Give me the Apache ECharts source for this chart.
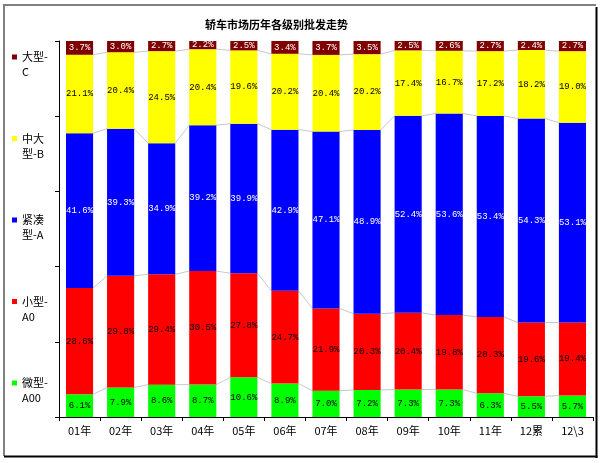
<!DOCTYPE html>
<html><head><meta charset="utf-8">
<script src="https://cdn.jsdelivr.net/npm/echarts@6/dist/echarts.min.js"></script>
<style>html,body{margin:0;padding:0;background:#fff}#c{width:603px;height:463px}</style>
</head><body><div id="c"></div>
<script>
var categories = ['01年','02年','03年','04年','05年','06年','07年','08年','09年','10年','11年','12累','12\\3'];
var seriesNames = ['微型-A00','小型-A0','紧凑型-A','中大型-B','大型-C'];
var legendLabels = {'大型-C':'大型-\nC','中大型-B':'中大\n型-B','紧凑型-A':'紧凑\n型-A','小型-A0':'小型-\nA0','微型-A00':'微型-\nA00'};
var microA00 = [6.1,7.9,8.6,8.7,10.6,8.9,7.0,7.2,7.3,7.3,6.3,5.5,5.7];
var smallA0  = [28.6,29.8,29.4,30.5,27.8,24.7,21.9,20.3,20.4,19.8,20.3,19.6,19.4];
var compactA = [41.6,39.3,34.9,39.2,39.9,42.9,47.1,48.9,52.4,53.6,53.4,54.3,53.1];
var midLargeB= [21.1,20.4,24.5,20.4,19.6,20.2,20.4,20.2,17.4,16.7,17.2,18.2,19.0];
var largeC   = [3.7,3.0,2.7,2.2,2.5,3.4,3.7,3.5,2.5,2.6,2.7,2.4,2.7];
var yTicks = [0,20,40,60,80,100];

var raw = [microA00, smallA0, compactA, midLargeB, largeC];
var colors = ['#00ff00','#ff0000','#0000ff','#ffff00','#800000'];
var labelColors = ['#000','#000','#fff','#000','#fff'];
var n = categories.length;
var totals = categories.map(function(_, i){ var s=0; raw.forEach(function(a){s+=a[i];}); return s; });
var norm = raw.map(function(a){ return a.map(function(v,i){ return v/totals[i]*100; }); });
var cum = categories.map(function(_, i){ var c=0, r=[]; for (var k=0;k<4;k++){ c+=norm[k][i]; r.push(c);} return r; });
var lineData = [];
for (var i=0;i<n-1;i++){ lineData.push([i].concat(cum[i]).concat(cum[i+1])); }

var BW = 0.66;
var series = raw.map(function(arr, k){
  return {
    name: seriesNames[k], type: 'bar', stack: 'total', barWidth: '66%',
    itemStyle: {color: colors[k]},
    data: arr.map(function(v,i){ return {value: norm[k][i], raw: v}; }),
    label: {show: true, position: 'inside', color: labelColors[k],
      fontFamily: 'Liberation Mono', fontSize: 9,
      formatter: function(p){ return p.data.raw.toFixed(1) + '%'; }},
    emphasis: {disabled: true}, animation: false
  };
});
series.push({
  type: 'custom', silent: true, z: 1, animation: false,
  data: lineData,
  encode: {x: 0, y: 1},
  renderItem: function(params, api){
    var i = api.value(0);
    var hw = api.size([1,0])[0] * BW / 2;
    var children = [];
    for (var k=0;k<4;k++){
      var p1 = api.coord([i, api.value(1+k)]);
      var p2 = api.coord([i+1, api.value(5+k)]);
      children.push({type:'line', shape:{x1:p1[0]+hw, y1:p1[1], x2:p2[0]-hw, y2:p2[1]},
        style:{stroke:'#c8c8c8', lineWidth:1}});
    }
    return {type:'group', children: children};
  }
});

var chart = echarts.init(document.getElementById('c'), null, {renderer:'canvas'});
chart.setOption({
  animation: false,
  backgroundColor: '#fff',
  title: {text: '轿车市场历年各级别批发走势', left: 200, top: 14,
    textStyle: {fontFamily: 'Noto Sans CJK SC', fontSize: 11, fontWeight: 'bold', color: '#000'}},
  legend: {orient: 'vertical', left: 12, top: 34.5, itemGap: 36.5, itemWidth: 5, itemHeight: 5,
    icon: 'rect', selectedMode: false, padding: 0,
    data: ['大型-C','中大型-B','紧凑型-A','小型-A0','微型-A00'],
    formatter: function(name){ return ' \n' + legendLabels[name]; },
    textStyle: {fontFamily: 'Noto Sans CJK SC', fontSize: 11, lineHeight: 15, color: '#000'}},
  grid: {left: 59, right: 10, top: 41, bottom: 46},
  xAxis: {type: 'category', data: categories,
    axisLine: {lineStyle: {color: '#000'}},
    axisTick: {show: true, alignWithLabel: false, length: 4, lineStyle: {color: '#000'}},
    axisLabel: {fontFamily: 'Noto Sans CJK SC', fontSize: 11, color: '#000', margin: 8, interval: 0}},
  yAxis: {type: 'value', min: yTicks[0], max: yTicks[yTicks.length-1], interval: 20,
    axisLine: {show: true, lineStyle: {color: '#000'}},
    axisTick: {show: true, length: 4, lineStyle: {color: '#000'}},
    axisLabel: {show: false}, splitLine: {show: false}},
  graphic: [
    {type:'line', shape:{x1:3, y1:5, x2:596, y2:5}, style:{stroke:'#808080', lineWidth:2}},
    {type:'line', shape:{x1:4, y1:4, x2:4, y2:456}, style:{stroke:'#808080', lineWidth:2}},
    {type:'line', shape:{x1:596.5, y1:7, x2:596.5, y2:458}, style:{stroke:'#000', lineWidth:2}},
    {type:'line', shape:{x1:4, y1:456.5, x2:597.5, y2:456.5}, style:{stroke:'#000', lineWidth:2}}
  ],
  series: series
});
</script></body></html>
